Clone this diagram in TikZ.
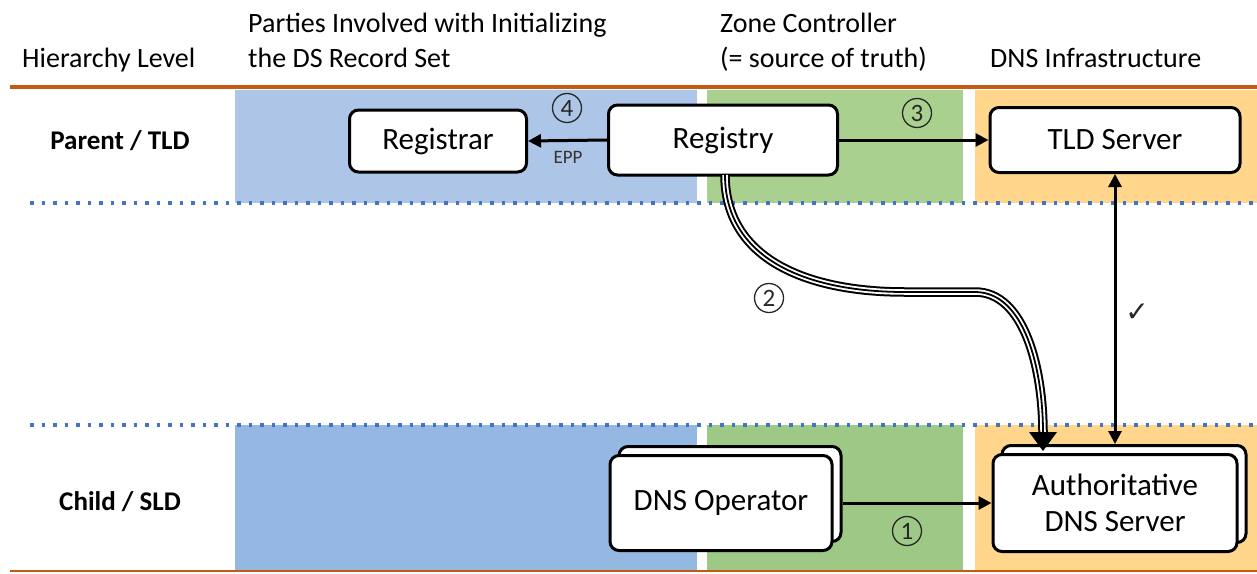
\documentclass[tikz,border=0pt]{standalone}
\usepackage{fontspec}
\setmainfont{Carlito}
\newfontfamily\symf{DejaVu Sans}
\usetikzlibrary{arrows.meta}
\definecolor{bluetop}{HTML}{ADC6E8}
\definecolor{bluebot}{HTML}{95B8E3}
\definecolor{greentop}{HTML}{AAD08F}
\definecolor{greenbot}{HTML}{9EC886}
\definecolor{orangecol}{HTML}{FFD68C}
\definecolor{rule}{HTML}{C55A11}
\definecolor{dotblue}{HTML}{4472C4}
\tikzset{
  box/.style={draw=black, line width=3pt, fill=white, rounded corners=9pt, align=center, font=\fontsize{31}{36}\selectfont, inner sep=0pt},
  hdr/.style={anchor=base west, font=\fontsize{28}{32}\selectfont, inner sep=0pt},
  lvl/.style={font=\fontsize{27}{31}\selectfont\bfseries, inner sep=0pt},
  num/.style={circle, draw=black!85, line width=1.3pt, minimum size=29pt, inner sep=0pt, font=\fontsize{25}{28}\selectfont, text=black!85},
  arr/.style={line width=3pt, -{Triangle[length=13pt,width=13pt]}},
  dotline/.style={dotblue, line width=3.5pt, dash pattern=on 3.5pt off 8pt},
}
\begin{document}
\begin{tikzpicture}[x=1pt,y=-1pt]
\useasboundingbox (0,0) rectangle (1257,573);
% column backgrounds
\fill[bluetop] (235,90) rectangle (697,203);
\fill[greentop] (707,90) rectangle (963,203);
\fill[orangecol] (975,90) rectangle (1257,203);
\fill[bluebot] (235,425) rectangle (697,570);
\fill[greenbot] (707,425) rectangle (963,570);
\fill[orangecol] (975,425) rectangle (1257,570);
% rules
\draw[rule, line width=4pt] (10,87) -- (1257,87);
\draw[rule, line width=2pt] (10,571) -- (1257,571);
\draw[dotline] (30,203) -- (1257,203);
\draw[dotline] (30,425) -- (1257,425);
% headers
\node[hdr] (h1) at (22,67) {Hierarchy Level};
\node[hdr] (h2a) at (248,32) {Parties Involved with Initializing};
\node[hdr] (h2b) at (248,67) {the DS Record Set};
\node[hdr] (h3a) at (720,32) {Zone Controller};
\node[hdr] (h3b) at (720,67) {(= source of truth)};
\node[hdr] (h4) at (990,67) {DNS Infrastructure};
% level labels
\node[lvl] (l1) at (120,141) {Parent / TLD};
\node[lvl] (l2) at (120,502) {Child / SLD};
% boxes
\node[box, minimum width=177pt, minimum height=62pt] (registrar) at (438,141) {Registrar};
\node[box, minimum width=229pt, minimum height=70pt] (registry) at (723,140) {Registry};
\node[box, minimum width=250pt, minimum height=65pt] (tld) at (1115,140) {TLD Server};
\node[box, minimum width=222pt, minimum height=95pt] (opback) at (730,494) {};
\node[box, minimum width=222pt, minimum height=95pt] (op) at (721,503) {DNS Operator};
\node[box, minimum width=244pt, minimum height=97pt] (authback) at (1124,494) {};
\node[box, minimum width=244pt, minimum height=97pt] (auth) at (1115,503) {Authoritative\\DNS Server};
% arrows
\draw[arr] (registry.west) -- (registrar.east);
\draw[arr] (registry.east) -- (tld.west);
\draw[arr] (opback.east |- op.center) -- (auth.west);
\draw[line width=3pt, {Triangle[length=13pt,width=13pt]}-{Triangle[length=13pt,width=13pt]}] (tld.south) -- (tld.south |- authback.north);
% triple curved line
\coordinate (c0) at (725,175);
\coordinate (c1) at (905,292);
\coordinate (c2) at (975,292);
\coordinate (c3) at (1043,433);
\foreach \w/\c in {9.5pt/black,5.5pt/white,1.8pt/black}{
  \draw[line width=\w, \c] (c0) .. controls (725,255) and (800,292) .. (c1) -- (c2) .. controls (1025,292) and (1043,370) .. (c3);
}
\fill[black] (1029,432) -- (1057,432) -- (1043,451) -- cycle;
% labels
\node[num] (n4) at (567,108) {4};
\node[font=\fontsize{19}{22}\selectfont, inner sep=0pt, text=black!80] (epp) at (568,157) {EPP};
\node[num] (n3) at (917,113) {3};
\node[num] (n2) at (769,298) {2};
\node[num] (n1) at (907,531) {1};
\node[font=\fontsize{28}{32}\selectfont\symf, inner sep=0pt, text=black!85] (ck) at (1137,313) {✓};
\end{tikzpicture}
\end{document}
